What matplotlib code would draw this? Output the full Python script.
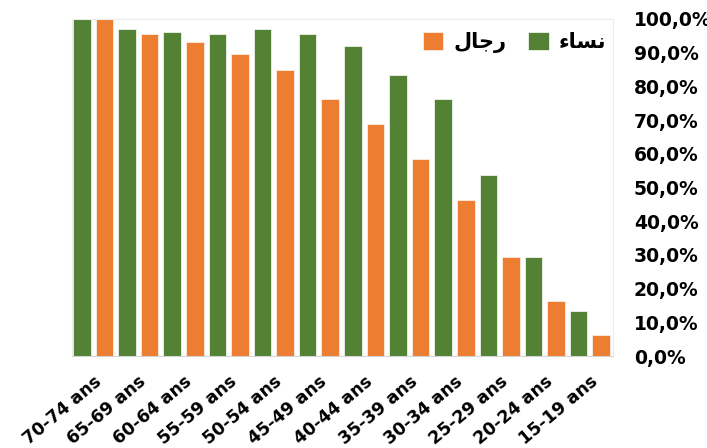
import numpy as np
import matplotlib
matplotlib.use("Agg")
import matplotlib.pyplot as plt
from matplotlib.ticker import FuncFormatter

# tranches d'âge (de la plus âgée à la plus jeune)
ages = ["70-74 ans", "65-69 ans", "60-64 ans", "55-59 ans", "50-54 ans", "45-49 ans",
        "40-44 ans", "35-39 ans", "30-34 ans", "25-29 ans", "20-24 ans", "15-19 ans"]
femmes = [1.000, 0.970, 0.960, 0.956, 0.971, 0.956, 0.918, 0.832, 0.763, 0.538, 0.294, 0.135]
hommes = [1.000, 0.954, 0.930, 0.895, 0.847, 0.762, 0.687, 0.585, 0.463, 0.294, 0.163, 0.063]

# libellés arabes déjà mis en forme (ordre visuel)
lbl_femmes = "\uFE80\uFE8E\uFEB4\uFEE7"   # نساء
lbl_hommes = "\uFEDD\uFE8E\uFE9F\uFEAD"   # رجال

vert = "#548235"
orange = "#ED7D31"

fig = plt.figure(figsize=(7.07, 4.48), dpi=100)
ax = fig.add_axes([0.102, 0.205, 0.765, 0.753])

x = np.arange(len(ages)) * 2
w = 0.78
b_f = ax.bar(x, femmes, w, color=vert, edgecolor="#eef3ea", linewidth=0.6)
b_h = ax.bar(x + 1, hommes, w, color=orange, edgecolor="#fbece2", linewidth=0.6)

ax.set_xlim(-0.43, 23.52)
ax.set_ylim(0, 1.0)

ax.yaxis.tick_right()
ax.set_yticks(np.arange(0, 1.01, 0.1))
ax.yaxis.set_major_formatter(FuncFormatter(lambda v, p: f"{v*100:.1f}%".replace(".", ",")))
ax.tick_params(axis="y", length=0, pad=15, labelsize=13.5)
for t in ax.get_yticklabels():
    t.set_fontweight("bold")

ax.set_xticks(x + 0.5)
ax.set_xticklabels(ages, rotation=40, ha="right", va="top", rotation_mode="anchor",
                   fontsize=12.5, fontweight="bold")
ax.tick_params(axis="x", length=0, pad=12)

for s in ax.spines.values():
    s.set_color("#ececec")
    s.set_linewidth(0.8)
ax.spines["bottom"].set_color("#d4d4d4")

ax.legend([b_h, b_f], [lbl_hommes, lbl_femmes], ncol=2, loc="upper right",
          frameon=False, prop={"family": "DejaVu Sans", "size": 15, "weight": "bold"},
          handlelength=1.0, handleheight=1.0, handletextpad=0.5, columnspacing=1.0,
          borderaxespad=0.3, bbox_to_anchor=(1.015, 1.005))

fig.savefig("out.png", dpi=100)
